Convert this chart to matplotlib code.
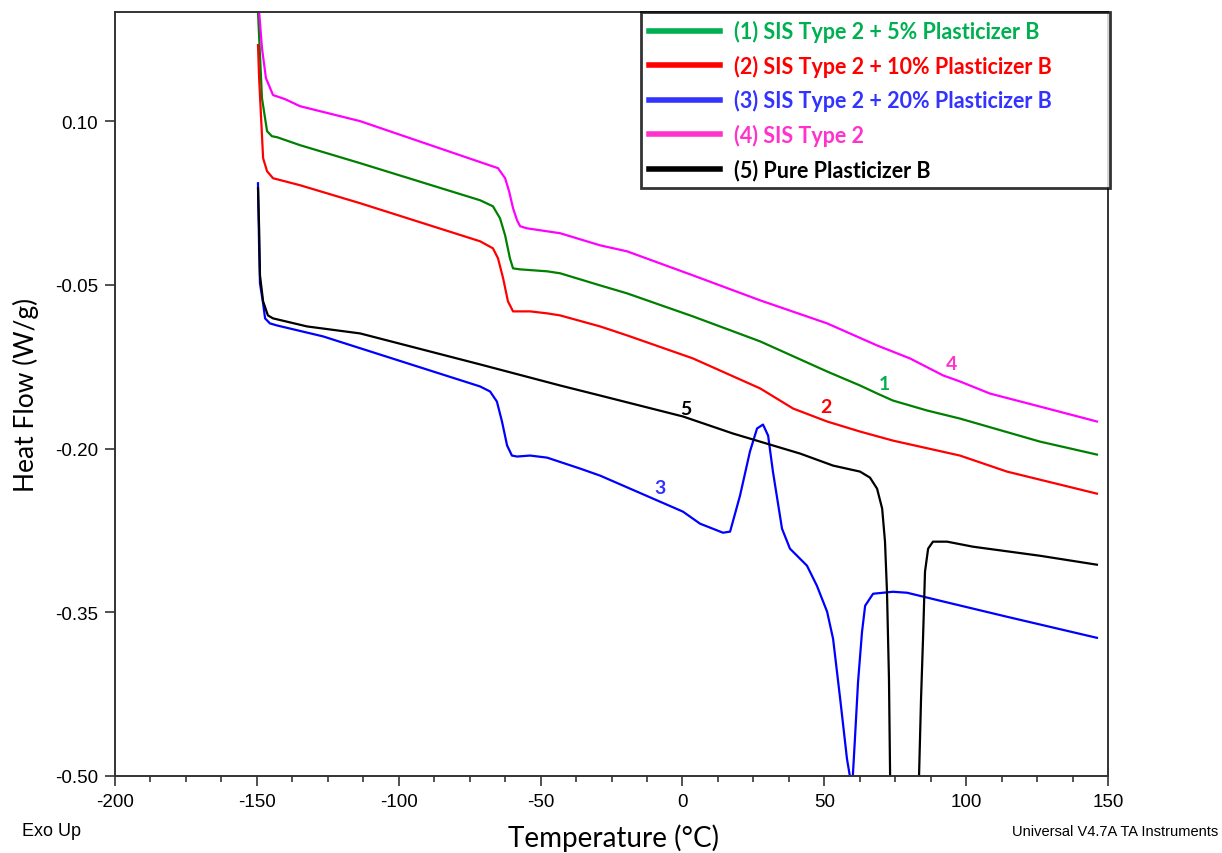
import matplotlib.pyplot as plt
from matplotlib.lines import Line2D
from matplotlib.ticker import MultipleLocator, FormatStrFormatter
import numpy as np

plt.rcParams['axes.unicode_minus'] = False

# (1) SIS Type 2 + 5% Plasticizer B
t1 = [-150.0, -149.6, -148.2, -146.4, -144.7, -142.9, -134.8, -113.6, -71.3, -66.8, -64.3, -62.5,
      -60.8, -59.7, -57.2, -47.7, -43.1, -29.0, -19.5, 3.7, 27.4, 51.0, 62.6, 68.6, 74.2, 86.2,
      97.8, 126.0, 146.1]
h1 = [0.26, 0.20, 0.1211, 0.0908, 0.0862, 0.0853, 0.0780, 0.0615, 0.0275, 0.0220, 0.0110, -0.0046,
      -0.0257, -0.0349, -0.0358, -0.0376, -0.0394, -0.0505, -0.0578, -0.0789, -0.1018, -0.1294,
      -0.1422, -0.1495, -0.1560, -0.1651, -0.1725, -0.1936, -0.2055]

# (2) SIS Type 2 + 10% Plasticizer B
t2 = [-149.6, -149.2, -147.8, -146.4, -144.3, -134.8, -113.6, -71.3, -66.8, -65.0, -63.2, -61.5,
      -59.7, -57.2, -53.7, -47.7, -43.1, -29.0, -19.5, 3.7, 27.4, 39.0, 51.0, 62.6, 74.2, 97.8,
      114.4, 146.1]
h2 = [0.1697, 0.1394, 0.0661, 0.0541, 0.0477, 0.0413, 0.0248, -0.0101, -0.0165, -0.0257, -0.0440,
      -0.0651, -0.0743, -0.0743, -0.0743, -0.0761, -0.0780, -0.0881, -0.0963, -0.1174, -0.1449,
      -0.1633, -0.1752, -0.1844, -0.1927, -0.2064, -0.2211, -0.2413]

# (3) SIS Type 2 + 20% Plasticizer B
t3 = [-149.6, -149.2, -148.9, -147.8, -147.1, -145.4, -142.9, -126.7, -71.3, -67.8, -65.4, -63.6,
      -61.8, -60.1, -58.3, -53.7, -47.7, -36.1, -29.0, 0.2, 6.2, 14.3, 16.8, 20.3, 23.8, 26.3, 28.4,
      30.2, 31.9, 35.1, 37.9, 43.9, 47.4, 51.0, 53.1, 55.6, 58.0, 59.8, 60.8, 61.9, 63.3, 64.4, 67.2,
      74.2, 79.2, 90.8, 114.4, 146.1]
h3 = [0.0431, -0.0165, -0.0486, -0.0670, -0.0807, -0.0853, -0.0872, -0.0972, -0.1431, -0.1477,
      -0.1569, -0.1752, -0.1972, -0.2064, -0.2073, -0.2064, -0.2083, -0.2183, -0.2248, -0.2578,
      -0.2688, -0.2771, -0.2761, -0.2431, -0.2027, -0.1816, -0.1780, -0.1881, -0.2211, -0.2734,
      -0.2917, -0.3073, -0.3257, -0.3495, -0.3743, -0.4293, -0.4844, -0.5120, -0.4661, -0.4138,
      -0.3679, -0.3440, -0.3330, -0.3312, -0.3321, -0.3394, -0.3541, -0.3734]

# (4) SIS Type 2
t4 = [-150.0, -149.2, -148.2, -146.8, -144.3, -140.1, -134.8, -113.6, -65.0, -62.5, -61.1, -59.7,
      -58.3, -57.2, -54.8, -43.1, -29.0, -19.5, 3.7, 27.4, 51.0, 68.6, 80.2, 91.9, 97.8, 108.4,
      126.0, 146.1]
h4 = [0.28, 0.20, 0.1670, 0.1394, 0.1239, 0.1202, 0.1137, 0.1000, 0.0569, 0.0477, 0.0358, 0.0202,
      0.0092, 0.0037, 0.0018, -0.0027, -0.0138, -0.0193, -0.0413, -0.0642, -0.0853, -0.1055,
      -0.1174, -0.1330, -0.1385, -0.1496, -0.1615, -0.1752]

# (5) Pure Plasticizer B
t5 = [-149.6, -149.2, -148.9, -147.8, -146.1, -144.3, -132.3, -113.6, -71.3, -43.1, -29.0, 0.2,
      17.8, 41.5, 53.1, 62.6, 66.1, 68.6, 70.4, 71.4, 72.1, 72.8, 73.2, 73.6, 83.0, 83.4, 84.1, 84.8,
      85.5, 86.6, 88.3, 93.3, 102.4, 126.0, 146.1]
h5 = [0.0385, 0.0018, -0.0413, -0.0651, -0.0780, -0.0807, -0.0881, -0.0945, -0.1229, -0.1422,
      -0.1514, -0.1706, -0.1862, -0.2046, -0.2156, -0.2211, -0.2266, -0.2367, -0.2550, -0.2853,
      -0.3312, -0.4110, -0.5000, -0.56, -0.56, -0.5000, -0.4293, -0.3743, -0.3128, -0.2917,
      -0.2853, -0.2853, -0.2899, -0.2982, -0.3064]

labels = ["(1) SIS Type 2 + 5% Plasticizer B", "(2) SIS Type 2 + 10% Plasticizer B",
          "(3) SIS Type 2 + 20% Plasticizer B", "(4) SIS Type 2", "(5) Pure Plasticizer B"]
curve_colors = ["#008000", "#ff0000", "#0000ff", "#ff00ff", "#000000"]
key_colors = ["#00b050", "#ff0000", "#3333ff", "#ff33cc", "#000000"]

# curve number tags (x, y)
tag_x = [71.1, 50.6, -7.9, 94.7, 1.3]
tag_y = [-0.140, -0.161, -0.236, -0.122, -0.163]

fig = plt.figure(figsize=(12.22, 8.54), dpi=100)
ax = fig.add_axes([115 / 1222, 1 - 777 / 854, 993 / 1222, 764 / 854])

for t, h, c in zip([t1, t2, t3, t4, t5], [h1, h2, h3, h4, h5], curve_colors):
    ax.plot(t, h, color=c, lw=1.6)

for i in range(5):
    ax.text(tag_x[i], tag_y[i], str(i + 1), color=key_colors[i], fontsize=14,
            fontweight='bold', family='Lato', ha='center', va='center')

ax.set_xlim(-200, 150)
ax.set_ylim(-0.50, 0.20)
ax.xaxis.set_major_locator(MultipleLocator(50))
ax.xaxis.set_minor_locator(MultipleLocator(12.5))
ax.set_yticks([0.10, -0.05, -0.20, -0.35, -0.50])
ax.yaxis.set_major_formatter(FormatStrFormatter('%.2f'))
ax.tick_params(axis='both', which='major', direction='out', length=7, width=1.2,
               labelsize=13.5, color='#333333', pad=5)
ax.tick_params(axis='x', which='minor', direction='out', length=4, width=1.2, color='#333333')
for s in ax.spines.values():
    s.set_linewidth(1.4)
    s.set_color('#333333')
for lab in ax.get_xticklabels() + ax.get_yticklabels():
    lab.set_family('Liberation Sans')

ax.set_ylabel("Heat Flow (W/g)", family='Lato', fontsize=19, labelpad=12)
fig.text(613 / 1222, 1 - 838 / 854, "Temperature (°C)", family='Lato', fontsize=20,
         ha='center', va='center')
fig.text(22 / 1222, 1 - 832 / 854, "Exo Up", family='Liberation Sans', fontsize=13,
         ha='left', va='center')
fig.text(1218 / 1222, 1 - 832 / 854, "Universal V4.7A TA Instruments", family='Liberation Sans',
         fontsize=10.5, ha='right', va='center')

handles = [Line2D([], [], color=c, lw=4) for c in key_colors]
leg = fig.legend(handles, labels, loc='upper left',
                 bbox_to_anchor=(641 / 1222, 1 - 188 / 854, 469 / 1222, 175 / 854), mode='expand',
                 prop={'family': 'Lato', 'weight': 'bold', 'size': 15.5}, frameon=True,
                 fancybox=False, edgecolor='black', handlelength=3.3, handletextpad=0.65,
                 labelspacing=0.58, borderpad=0.38, borderaxespad=0)
leg.get_frame().set_linewidth(2)
for txt, c in zip(leg.get_texts(), key_colors):
    txt.set_color(c)

fig.savefig("out.png", dpi=100)
